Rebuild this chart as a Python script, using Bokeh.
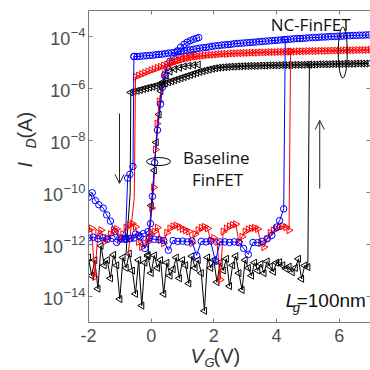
from math import pi
from bokeh.plotting import figure
from bokeh.layouts import row, column
from bokeh.models import Range1d, FixedTicker, LinearAxis, LogAxis, Label, Arrow, OpenHead
from bokeh.embed import file_html
from bokeh.resources import INLINE

# ---------------- data: gate voltage (V) and log10 of drain current (A) ----------------
# NC-FinFET, forward sweeps (low-current branch + switching point)
blue_fwd_v = [-2.0, -1.85, -1.7, -1.55, -1.4, -1.25, -1.1, -0.95, -0.8, -0.65,
              -0.5, -0.35, -0.2, -0.05, 0.1, 0.25, 0.4, 0.55, 0.7, 0.85,
              1.0, 1.15, 1.3, 1.45, 1.6, 1.75, 1.9, 2.05, 2.2, 2.35,
              2.5, 2.65, 2.8, 2.95, 3.1, 3.25, 3.4, 3.55, 3.7, 3.85,
              4.0, 4.1, 4.23, 4.28]
blue_fwd_log = [-11.75, -11.72, -11.78, -11.74, -11.80, -11.76, -11.92, -11.78, -11.80, -11.76,
                -11.60, -11.70, -12.15, -11.75, -11.80, -11.82, -11.85, -12.22, -11.85, -11.88,
                -11.87, -11.90, -11.86, -12.42, -11.88, -11.90, -11.87, -12.65, -11.90, -11.90,
                -11.92, -11.90, -11.93, -12.15, -12.38, -11.92, -11.93, -11.88, -11.78, -11.65,
                -11.33, -11.08, -10.63, -4.12]

red_fwd_v = [-2.0, -1.9, -1.8, -1.7, -1.6, -1.5, -1.4, -1.3, -1.2, -1.1,
             -1.0, -0.9, -0.8, -0.7, -0.6, -0.5, -0.4, -0.3, -0.2, -0.1,
             0.0, 0.1, 0.2, 0.3, 0.4, 0.5, 0.6, 0.7, 0.8, 0.9,
             1.0, 1.1, 1.2, 1.3, 1.4, 1.5, 1.6, 1.7, 1.8, 1.9,
             2.0, 2.1, 2.2, 2.3, 2.4, 2.5, 2.6, 2.7, 2.8, 2.9,
             3.0, 3.1, 3.2, 3.3, 3.4, 3.5, 3.6, 3.7, 3.8, 3.9,
             4.0, 4.1, 4.2, 4.3, 4.4, 4.45]
red_fwd_log = [-11.45, -11.38, -13.25, -11.55, -11.45, -11.90, -11.75, -11.60, -11.45, -11.40,
               -11.85, -11.60, -11.35, -11.25, -11.20, -11.32, -11.90, -12.10, -11.95, -11.80,
               -11.60, -11.50, -11.35, -11.80, -11.95, -11.55, -11.38, -11.30, -11.27, -11.32,
               -11.40, -11.45, -11.50, -11.95, -11.60, -11.45, -11.35, -11.32, -11.38, -11.85,
               -11.75, -11.90, -13.35, -11.50, -11.38, -11.30, -11.25, -11.22, -11.90, -11.70,
               -11.50, -11.42, -11.38, -11.36, -11.40, -11.95, -12.10, -11.80, -11.55, -11.46,
               -11.40, -11.33, -11.30, -11.33, -11.45, -4.58]

black_fwd_v = [-2.0, -1.9, -1.8, -1.7, -1.6, -1.5, -1.4, -1.3, -1.2, -1.1,
               -1.0, -0.9, -0.8, -0.7, -0.6, -0.5, -0.4, -0.3, -0.2, -0.1,
               0.0, 0.1, 0.2, 0.3, 0.4, 0.5, 0.6, 0.7, 0.8, 0.9,
               1.0, 1.1, 1.2, 1.3, 1.4, 1.5, 1.6, 1.7, 1.8, 1.9,
               2.0, 2.1, 2.2, 2.3, 2.4, 2.5, 2.6, 2.7, 2.8, 2.9,
               3.0, 3.1, 3.2, 3.3, 3.4, 3.5, 3.6, 3.7, 3.8, 3.9,
               4.0, 4.1, 4.2, 4.3, 4.4, 4.5, 4.6, 4.7, 4.8, 4.9,
               5.0, 5.05]
black_fwd_log = [-12.50, -13.20, -12.60, -13.70, -12.05, -12.80, -12.60, -13.30, -12.40, -12.80,
                 -14.10, -12.50, -12.90, -12.35, -13.00, -13.90, -12.60, -14.35, -12.70, -12.45,
                 -13.10, -12.42, -12.90, -12.60, -13.90, -12.70, -13.20, -12.95, -12.50, -13.30,
                 -12.60, -12.80, -13.50, -12.45, -12.90, -12.60, -13.10, -14.55, -12.50, -12.90,
                 -12.60, -13.45, -12.70, -13.00, -12.55, -13.60, -12.80, -12.45, -13.10, -13.75,
                 -12.60, -12.90, -13.20, -12.70, -13.00, -12.75, -13.10, -12.65, -12.85, -13.05,
                 -12.70, -12.68, -12.80, -12.93, -12.85, -13.07, -12.90, -12.55, -13.32, -12.81,
                 -12.87, -5.08]

# NC-FinFET, high-current (on) branches
blue_hi_v = [-0.55, -0.45, -0.35, -0.25, -0.15, -0.05, 0.05, 0.15, 0.25, 0.35,
             0.45, 0.55, 0.65, 0.75, 0.85, 0.95, 1.05, 1.15, 1.25, 1.35,
             1.45, 1.55, 1.65, 1.75, 1.85, 1.95, 2.05, 2.15, 2.25, 2.35,
             2.45, 2.55, 2.65, 2.75, 2.85, 2.95, 3.05, 3.15, 3.25, 3.35,
             3.45, 3.55, 3.65, 3.75, 3.85, 3.95, 4.05, 4.15, 4.25, 4.35,
             4.45, 4.55, 4.65, 4.75, 4.85, 4.95, 5.05, 5.15, 5.25, 5.35,
             5.45, 5.55, 5.65, 5.75, 5.85, 5.95, 6.05, 6.15, 6.25, 6.35,
             6.45, 6.55, 6.65, 6.75, 6.85, 6.95]
blue_hi_log = [-4.77, -4.77, -4.76, -4.75, -4.74, -4.73, -4.72, -4.70, -4.69, -4.68,
               -4.66, -4.64, -4.63, -4.61, -4.59, -4.57, -4.55, -4.53, -4.51, -4.49,
               -4.47, -4.45, -4.43, -4.42, -4.40, -4.38, -4.36, -4.35, -4.33, -4.32,
               -4.31, -4.30, -4.28, -4.27, -4.26, -4.25, -4.24, -4.23, -4.22, -4.21,
               -4.20, -4.19, -4.18, -4.17, -4.16, -4.15, -4.14, -4.13, -4.12, -4.11,
               -4.10, -4.09, -4.08, -4.08, -4.07, -4.06, -4.05, -4.04, -4.04, -4.03,
               -4.02, -4.02, -4.01, -4.00, -4.00, -3.99, -3.99, -3.98, -3.97, -3.97,
               -3.96, -3.96, -3.95, -3.95, -3.94, -3.94]

red_hi_v = [-0.5, -0.4, -0.3, -0.2, -0.1, 0.0, 0.1, 0.2, 0.3, 0.4,
            0.5, 0.6, 0.7, 0.8, 0.9, 1.0, 1.1, 1.2, 1.3, 1.4,
            1.5, 1.6, 1.7, 1.8, 1.9, 2.0, 2.1, 2.2, 2.3, 2.4,
            2.5, 2.6, 2.7, 2.8, 2.9, 3.0, 3.1, 3.2, 3.3, 3.4,
            3.5, 3.6, 3.7, 3.8, 3.9, 4.0, 4.1, 4.2, 4.3, 4.4,
            4.5, 4.6, 4.7, 4.8, 4.9, 5.0, 5.1, 5.2, 5.3, 5.4,
            5.5, 5.6, 5.7, 5.8, 5.9, 6.0, 6.1, 6.2, 6.3, 6.4,
            6.5, 6.6, 6.7, 6.8, 6.9, 7.0]
red_hi_log = [-5.55, -5.50, -5.45, -5.40, -5.35, -5.30, -5.26, -5.21, -5.17, -5.12,
              -5.08, -5.04, -5.00, -4.96, -4.92, -4.88, -4.85, -4.83, -4.80, -4.78,
              -4.76, -4.75, -4.73, -4.72, -4.71, -4.70, -4.69, -4.68, -4.67, -4.67,
              -4.66, -4.65, -4.65, -4.64, -4.64, -4.63, -4.63, -4.62, -4.62, -4.62,
              -4.61, -4.61, -4.61, -4.60, -4.60, -4.60, -4.59, -4.59, -4.59, -4.58,
              -4.58, -4.58, -4.57, -4.57, -4.57, -4.56, -4.56, -4.56, -4.56, -4.55,
              -4.55, -4.55, -4.55, -4.54, -4.54, -4.54, -4.54, -4.53, -4.53, -4.53,
              -4.53, -4.52, -4.52, -4.52, -4.52, -4.51]

black_hi_v = [-0.65, -0.55, -0.45, -0.35, -0.25, -0.15, -0.05, 0.05, 0.15, 0.25,
              0.35, 0.45, 0.55, 0.65, 0.75, 0.85, 0.95, 1.05, 1.15, 1.25,
              1.35, 1.45, 1.55, 1.65, 1.75, 1.85, 1.95, 2.05, 2.15, 2.25,
              2.35, 2.45, 2.55, 2.65, 2.75, 2.85, 2.95, 3.05, 3.15, 3.25,
              3.35, 3.45, 3.55, 3.65, 3.75, 3.85, 3.95, 4.05, 4.15, 4.25,
              4.35, 4.45, 4.55, 4.65, 4.75, 4.85, 4.95, 5.05, 5.15, 5.25,
              5.35, 5.45, 5.55, 5.65, 5.75, 5.85, 5.95, 6.05, 6.15, 6.25,
              6.35, 6.45, 6.55, 6.65, 6.75, 6.85, 6.95]
black_hi_log = [-6.15, -6.12, -6.09, -6.06, -6.02, -5.99, -5.96, -5.93, -5.90, -5.86,
                -5.83, -5.80, -5.76, -5.72, -5.68, -5.64, -5.60, -5.56, -5.52, -5.48,
                -5.44, -5.40, -5.36, -5.33, -5.30, -5.27, -5.24, -5.22, -5.20, -5.19,
                -5.18, -5.17, -5.16, -5.16, -5.15, -5.15, -5.14, -5.14, -5.13, -5.13,
                -5.13, -5.12, -5.12, -5.12, -5.11, -5.11, -5.11, -5.11, -5.10, -5.10,
                -5.10, -5.10, -5.09, -5.09, -5.09, -5.09, -5.08, -5.08, -5.08, -5.08,
                -5.07, -5.07, -5.07, -5.07, -5.06, -5.06, -5.06, -5.06, -5.05, -5.05,
                -5.05, -5.05, -5.04, -5.04, -5.04, -5.04, -5.03]

# NC-FinFET, reverse-sweep switching-off drops
blue_drop_v = [-0.55, -0.58, -0.68, -0.75, -0.82]
blue_drop_log = [-4.77, -9.00, -9.30, -9.45, -11.75]
red_drop_v = [-0.5, -0.54, -0.74]
red_drop_log = [-5.55, -10.2, -12.45]
black_drop_v = [-0.65, -0.67, -0.80]
black_drop_log = [-6.15, -10.0, -12.3]

# Baseline FinFET
base_blue_v = [-2.0, -1.88, -1.78, -1.67, -1.53, -1.42, -1.3, -1.15, -1.0, -0.85,
               -0.7, -0.55, -0.4, -0.25, -0.1, -0.02, 0.04, 0.11, 0.2, 0.3,
               0.36, 0.43, 0.5, 0.6, 0.72, 0.84, 0.94, 1.05, 1.15, 1.25,
               1.35, 1.45, 1.52]
base_blue_log = [-10.18, -10.01, -10.31, -10.47, -10.6, -10.86, -11.1, -11.5, -11.75, -11.8,
                 -11.78, -11.75, -11.65, -11.58, -11.5, -11.2, -10.15, -8.85, -7.6, -6.6,
                 -5.95, -5.5, -5.2, -4.95, -4.76, -4.55, -4.41, -4.3, -4.22, -4.16,
                 -4.11, -4.07, -4.04]
base_red_v = [-0.1, 0.02, 0.08, 0.14, 0.19, 0.26, 0.33, 0.42, 0.52, 0.65, 0.8, 0.95, 1.1, 1.25, 1.4]
base_red_log = [-11.9, -10.6, -9.8, -8.35, -7.35, -6.5, -5.9, -5.45, -5.18, -5.0,
                -4.88, -4.8, -4.75, -4.72, -4.7]
base_black_v = [-0.1, 0.0, 0.1, 0.16, 0.25, 0.31, 0.38, 0.48, 0.6, 0.75, 0.9, 1.05, 1.2, 1.35, 1.5]
base_black_log = [-12.4, -10.5, -9.15, -8.07, -7.0, -6.1, -5.75, -5.5, -5.35, -5.25,
                  -5.2, -5.15, -5.12, -5.1, -5.08]

# axes
x_ticks = [-2, 0, 2, 4, 6]
x_tick_labels = ["-2", "0", "2", "4", "6"]
y_ticks = [1e-14, 1e-12, 1e-10, 1e-8, 1e-6, 1e-4]
y_tick_exponents = ["\u221214", "\u221212", "\u221210", "\u22128", "\u22126", "\u22124"]


def amps(logs):
    return [10.0 ** v for v in logs]


AX = "#7d7d7d"
TXT = "#4d4d4d"
TITLE = "#333333"
TICKFONT = "Liberation Sans"
ANNFONT = "Open Sans"
BASE_FIX = 0.37   # the renderer drops "alphabetic" text by about 0.37 em; lift it back


def label(fig, x, y, text, size, dy=0.0, dx=0.0, color="#111111", font=TICKFONT, **kw):
    """A text placed with its baseline at (x, y) plus screen offsets (dx right, dy up)."""
    kw.setdefault("text_baseline", "alphabetic")
    fig.add_layout(Label(x=x, y=y, text=text, x_offset=dx, y_offset=dy + BASE_FIX * size,
                         text_font=font, text_font_size=f"{size}px", text_color=color, **kw))


# layout geometry (pixels)
LEFT_W = 86          # left strip: y tick labels and y title
FRAME_L = 88         # frame left edge in the page
FRAME_W = 282
TOP_B = 10
FRAME_H = 312
BOT_H = 46           # bottom strip: x tick labels and x title
TOTAL = 370

XR = Range1d(-2, 7)
YR = Range1d(1e-15, 1e-3)
px_per_volt = FRAME_W / (XR.end - XR.start)

common = dict(output_backend="svg", toolbar_location=None)

# ---------------- main plot ----------------
p = figure(width=TOTAL - LEFT_W, height=TOP_B + FRAME_H + 2, x_range=XR, y_range=YR,
           y_axis_type="log", min_border_left=FRAME_L - LEFT_W, min_border_right=0,
           min_border_top=TOP_B, min_border_bottom=2, **common)
p.outline_line_color = None
p.grid.visible = False

hidden = dict(major_label_text_font_size="1px", major_label_text_color=None, major_label_standoff=0)
tick_style = dict(major_tick_line_color=AX, minor_tick_line_color=None,
                  major_tick_in=4, major_tick_out=0)

xa = p.xaxis[0]
xa.ticker = FixedTicker(ticks=x_ticks)
xa.major_label_overrides = {t: "" for t in x_ticks}
xa.update(axis_line_color=AX, **tick_style, **hidden)

ya = p.yaxis[0]
ya.ticker = FixedTicker(ticks=y_ticks)
ya.major_label_overrides = {t: "" for t in y_ticks}
ya.update(axis_line_color=AX, **tick_style, **hidden)

top = LinearAxis(ticker=FixedTicker(ticks=x_ticks), axis_line_color=AX,
                 major_label_overrides={t: "" for t in x_ticks}, **tick_style, **hidden)
p.add_layout(top, "above")

# right-hand ticks (the frame's right edge sits at the page edge, so no line)
right = LogAxis(ticker=FixedTicker(ticks=y_ticks), axis_line_color=None,
                major_label_overrides={t: "" for t in y_ticks}, **tick_style, **hidden)
p.add_layout(right, "right")


def series(v, logs, color, marker, angle=0.0, size=7):
    p.line(v, amps(logs), line_color=color, line_width=1)
    p.scatter(v, amps(logs), marker=marker, angle=angle, size=size, line_color=color,
              fill_color=None, line_width=1)


# baseline FinFET
series(base_black_v, base_black_log, "black", "triangle", angle=pi / 2)
series(base_red_v, base_red_log, "red", "triangle", angle=-pi / 2)
series(base_blue_v, base_blue_log, "blue", "circle", size=6.5)

# NC-FinFET
p.line(black_drop_v, amps(black_drop_log), line_color="black", line_width=1)
series(black_fwd_v, black_fwd_log, "black", "triangle", angle=pi / 2)
series(black_hi_v, black_hi_log, "black", "triangle", angle=pi / 2)
p.line(red_drop_v, amps(red_drop_log), line_color="red", line_width=1)
series(red_fwd_v, red_fwd_log, "red", "triangle", angle=-pi / 2)
series(red_hi_v, red_hi_log, "red", "triangle", angle=-pi / 2)
series(blue_drop_v, blue_drop_log, "blue", "circle", size=6.5)
series(blue_fwd_v, blue_fwd_log, "blue", "circle", size=6.5)
series(blue_hi_v, blue_hi_log, "blue", "circle", size=6.5)

# annotations inside the frame
p.ellipse(x=[6.115], y=[10 ** -4.615], width=9, height=51, width_units="screen",
          height_units="screen", fill_color=None, line_color="black", line_width=1)
p.ellipse(x=[0.236], y=[10 ** -8.81], width=24, height=8, width_units="screen",
          height_units="screen", fill_color=None, line_color="black", line_width=1)

label(p, 5.09, 10 ** -3.769, "NC-FinFET", 17, font=ANNFONT, text_align="center")
label(p, 2.08, 10 ** -8.885, "Baseline", 17, font=ANNFONT, text_align="center")
label(p, 2.12, 10 ** -9.73, "FinFET", 17, font=ANNFONT, text_align="center")

label(p, 4.292, 10 ** -14.423, "L", 19, text_font_style="italic")
label(p, 4.515, 10 ** -14.615, "g", 13, text_font_style="italic")
label(p, 4.643, 10 ** -14.423, "=100nm", 19)

p.add_layout(Arrow(end=OpenHead(size=9, line_color="#222222", line_width=1),
                   x_start=-1.01, y_start=10 ** -6.96, x_end=-1.01, y_end=10 ** -9.65,
                   line_color="#222222", line_width=1))
p.add_layout(Arrow(end=OpenHead(size=9, line_color="#222222", line_width=1),
                   x_start=5.38, y_start=10 ** -9.85, x_end=5.38, y_end=10 ** -7.23,
                   line_color="#222222", line_width=1))

# ---------------- left strip: y tick labels + y title (shares the y scale) ----------------
lf = figure(width=LEFT_W, height=TOP_B + FRAME_H + 2, x_range=Range1d(0, LEFT_W), y_range=YR,
            y_axis_type="log", x_axis_location=None, y_axis_location=None,
            min_border_left=0, min_border_right=0, min_border_top=TOP_B, min_border_bottom=2,
            **common)
lf.outline_line_color = None
lf.grid.visible = False

for t, e in zip(y_ticks, y_tick_exponents):
    ndig = len(e) - 1
    w = 13 * (0.584 + 0.556 * ndig)
    label(lf, 85, t, e, 13, dy=-1, color=TXT, text_align="right")
    label(lf, 85 - w - 0.5, t, "10", 18, dy=-9, color=TXT, text_align="right")

# rotated title pieces (baseline offset applied sideways)
lf.add_layout(Label(x=24, y=10 ** -9.04, text="I", angle=pi / 2, text_font_style="italic",
                    text_baseline="alphabetic", text_font=TICKFONT, text_font_size="20px",
                    text_color=TITLE))
lf.add_layout(Label(x=30, y=10 ** -8.31, text="D", angle=pi / 2, text_font_style="italic",
                    text_baseline="alphabetic", text_font=TICKFONT, text_font_size="14px",
                    text_color=TITLE))
lf.add_layout(Label(x=24, y=10 ** -7.92, text="(A)", angle=pi / 2,
                    text_baseline="alphabetic", text_font=TICKFONT, text_font_size="20px",
                    text_color=TITLE))

# ---------------- bottom strip: x tick labels + x title (same x scale) ----------------
bf = figure(width=TOTAL, height=BOT_H,
            x_range=Range1d(XR.start - FRAME_L / px_per_volt, XR.end),
            y_range=Range1d(TOTAL, TOTAL - BOT_H),
            x_axis_location=None, y_axis_location=None,
            min_border_left=0, min_border_right=0, min_border_top=0, min_border_bottom=0,
            **common)
bf.outline_line_color = None
bf.grid.visible = False

for t, s in zip(x_ticks, x_tick_labels):
    label(bf, t, 341.5, s, 18, color=TXT, text_align="center")

label(bf, 1.259, 363, "V", 20, color=TITLE, text_font_style="italic")
label(bf, 1.705, 367, "G", 13, color=TITLE, text_font_style="italic")
label(bf, 1.993, 363, "(V)", 20, color=TITLE)

layout = column(row(lf, p), bf)
open("out.html", "w").write(file_html(layout, INLINE))
